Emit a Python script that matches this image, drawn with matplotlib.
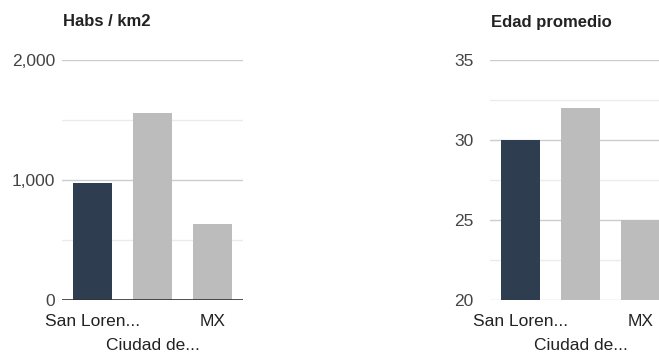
import matplotlib
matplotlib.use("Agg")
import matplotlib.pyplot as plt
from matplotlib.ticker import FixedLocator, FuncFormatter

plt.rcParams['font.family'] = ['Liberation Sans', 'DejaVu Sans']

# datos
categorias = ["San Loren...", "Ciudad de...", "MX"]
habs_km2 = [975, 1560, 635]
edad_promedio = [30, 32, 25]
colores = ["#2e3d4f", "#bcbcbc", "#bcbcbc"]

W, H = 659, 354
fig = plt.figure(figsize=(W / 100, H / 100), dpi=100)


def panel(x0, titulo, valores, ymin, ymax, mayores, menores, fmt, base_oscura, pad):
    ax = fig.add_axes([x0 / W, 1 - 300 / H, 181 / W, 240 / H])
    ax.bar(range(len(valores)), [v - ymin for v in valores], bottom=ymin,
           width=0.65, color=colores, zorder=3)
    ax.set_xlim(-0.5, 2.5)
    ax.set_ylim(ymin, ymax)
    ax.yaxis.set_major_locator(FixedLocator(mayores))
    ax.yaxis.set_minor_locator(FixedLocator(menores))
    ax.yaxis.set_major_formatter(FuncFormatter(fmt))
    ax.grid(axis='y', which='major', color='#cccccc', linewidth=1, zorder=0)
    ax.grid(axis='y', which='minor', color='#ebebeb', linewidth=1, zorder=0)
    for s in ax.spines.values():
        s.set_visible(False)
    if base_oscura:
        ax.axhline(ymin, color='#333333', linewidth=1.2, zorder=4)
    ax.tick_params(axis='y', which='both', length=0, labelsize=12.5,
                   labelcolor='#444444', pad=pad)
    ax.set_xticks([])
    # etiquetas escalonadas, como en Google Charts
    for i, c in enumerate(categorias):
        dy = -45 if i % 2 == 1 else -22
        ax.annotate(c, (i, 0), xycoords=('data', 'axes fraction'),
                    xytext=(0, dy), textcoords='offset pixels',
                    ha='center', va='center', fontsize=12.5, color='#222222',
                    annotation_clip=False)
    fig.text((x0 + 1) / W, 1 - 22 / H, titulo, fontsize=12, fontweight='bold',
             color='#222222', ha='left', va='center')
    return ax


panel(62, "Habs / km2", habs_km2, 0, 2000, [0, 1000, 2000], [500, 1500],
      lambda v, p: f"{int(v):,}", True, 5)
panel(490, "Edad promedio", edad_promedio, 20, 35, [20, 25, 30, 35], [22.5, 27.5, 32.5],
      lambda v, p: f"{int(v)}", False, 12)

fig.savefig("out.png", dpi=100)
